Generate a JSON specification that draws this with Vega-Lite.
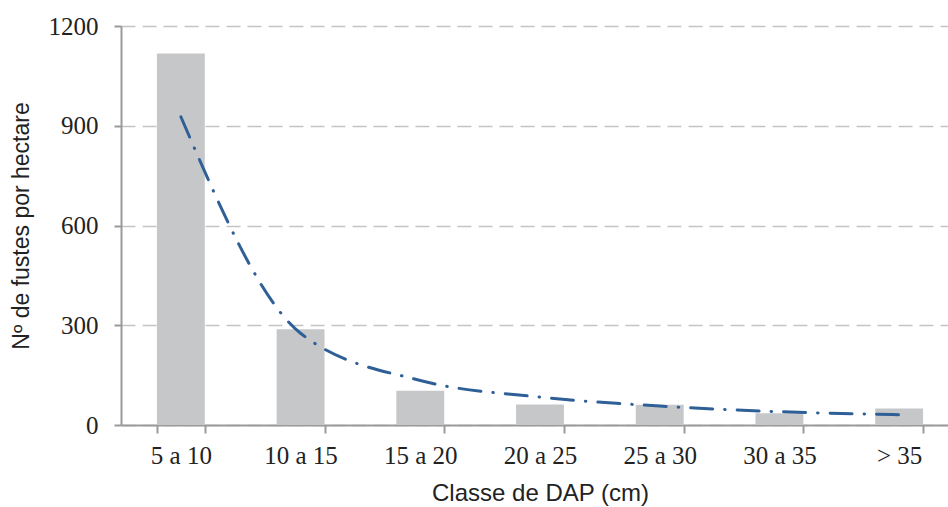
{
  "$schema": "https://vega.github.io/schema/vega-lite/v6.json",
  "width": 827,
  "height": 399,
  "autosize": {"type": "none"},
  "padding": {"left": 121, "top": 26, "right": 0, "bottom": 82},
  "background": "white",
  "config": {"view": {"stroke": null}},
  "data": {"values": [
    {"classe": "5 a 10", "fustes": 1117, "ajuste": 927},
    {"classe": "10 a 15", "fustes": 288, "ajuste": 276},
    {"classe": "15 a 20", "fustes": 103, "ajuste": 134},
    {"classe": "20 a 25", "fustes": 62, "ajuste": 84},
    {"classe": "25 a 30", "fustes": 61, "ajuste": 57},
    {"classe": "30 a 35", "fustes": 35, "ajuste": 40},
    {"classe": "> 35", "fustes": 50, "ajuste": 31}
  ]},
  "encoding": {
    "x": {
      "field": "classe", "type": "nominal", "sort": null,
      "scale": {"range": [0, 838], "paddingInner": 0.6, "paddingOuter": 0.3},
      "axis": {
        "title": "Classe de DAP (cm)", "titleFont": "Liberation Sans", "titleFontSize": 24,
        "titleFontWeight": "normal", "titleColor": "#222", "titlePadding": 13,
        "labelFont": "Liberation Serif", "labelFontSize": 25, "labelColor": "#222",
        "labelAngle": 0, "labelPadding": 10, "tickBand": "extent", "tickSize": 8,
        "tickColor": "#9a9a9a", "tickWidth": 2, "domainColor": "#9a9a9a", "domainWidth": 2,
        "grid": false
      }
    }
  },
  "layer": [
    {
      "mark": {"type": "bar", "color": "#c6c7c9"},
      "encoding": {
        "y": {
          "field": "fustes", "type": "quantitative",
          "scale": {"domain": [0, 1200]},
          "axis": {
            "title": "Nº de fustes por hectare", "titleFont": "Liberation Sans", "titleFontSize": 23,
            "titleFontWeight": "normal", "titleColor": "#222", "titlePadding": 15,
            "values": [0, 300, 600, 900, 1200], "format": "d",
            "labelFont": "Liberation Serif", "labelFontSize": 25, "labelColor": "#222", "labelPadding": 16,
            "tickSize": 7, "tickColor": "#9a9a9a", "tickWidth": 2,
            "domainColor": "#9a9a9a", "domainWidth": 2,
            "grid": true, "gridColor": "#c4c4c4", "gridDash": [14, 7], "gridWidth": 1.6
          }
        }
      }
    },
    {
      "mark": {"type": "line", "color": "#2f5f97", "strokeWidth": 3, "strokeCap": "round",
               "strokeDash": [22, 12, 0.5, 12], "interpolate": "monotone"},
      "encoding": {
        "y": {"field": "ajuste", "type": "quantitative"}
      }
    }
  ]
}
